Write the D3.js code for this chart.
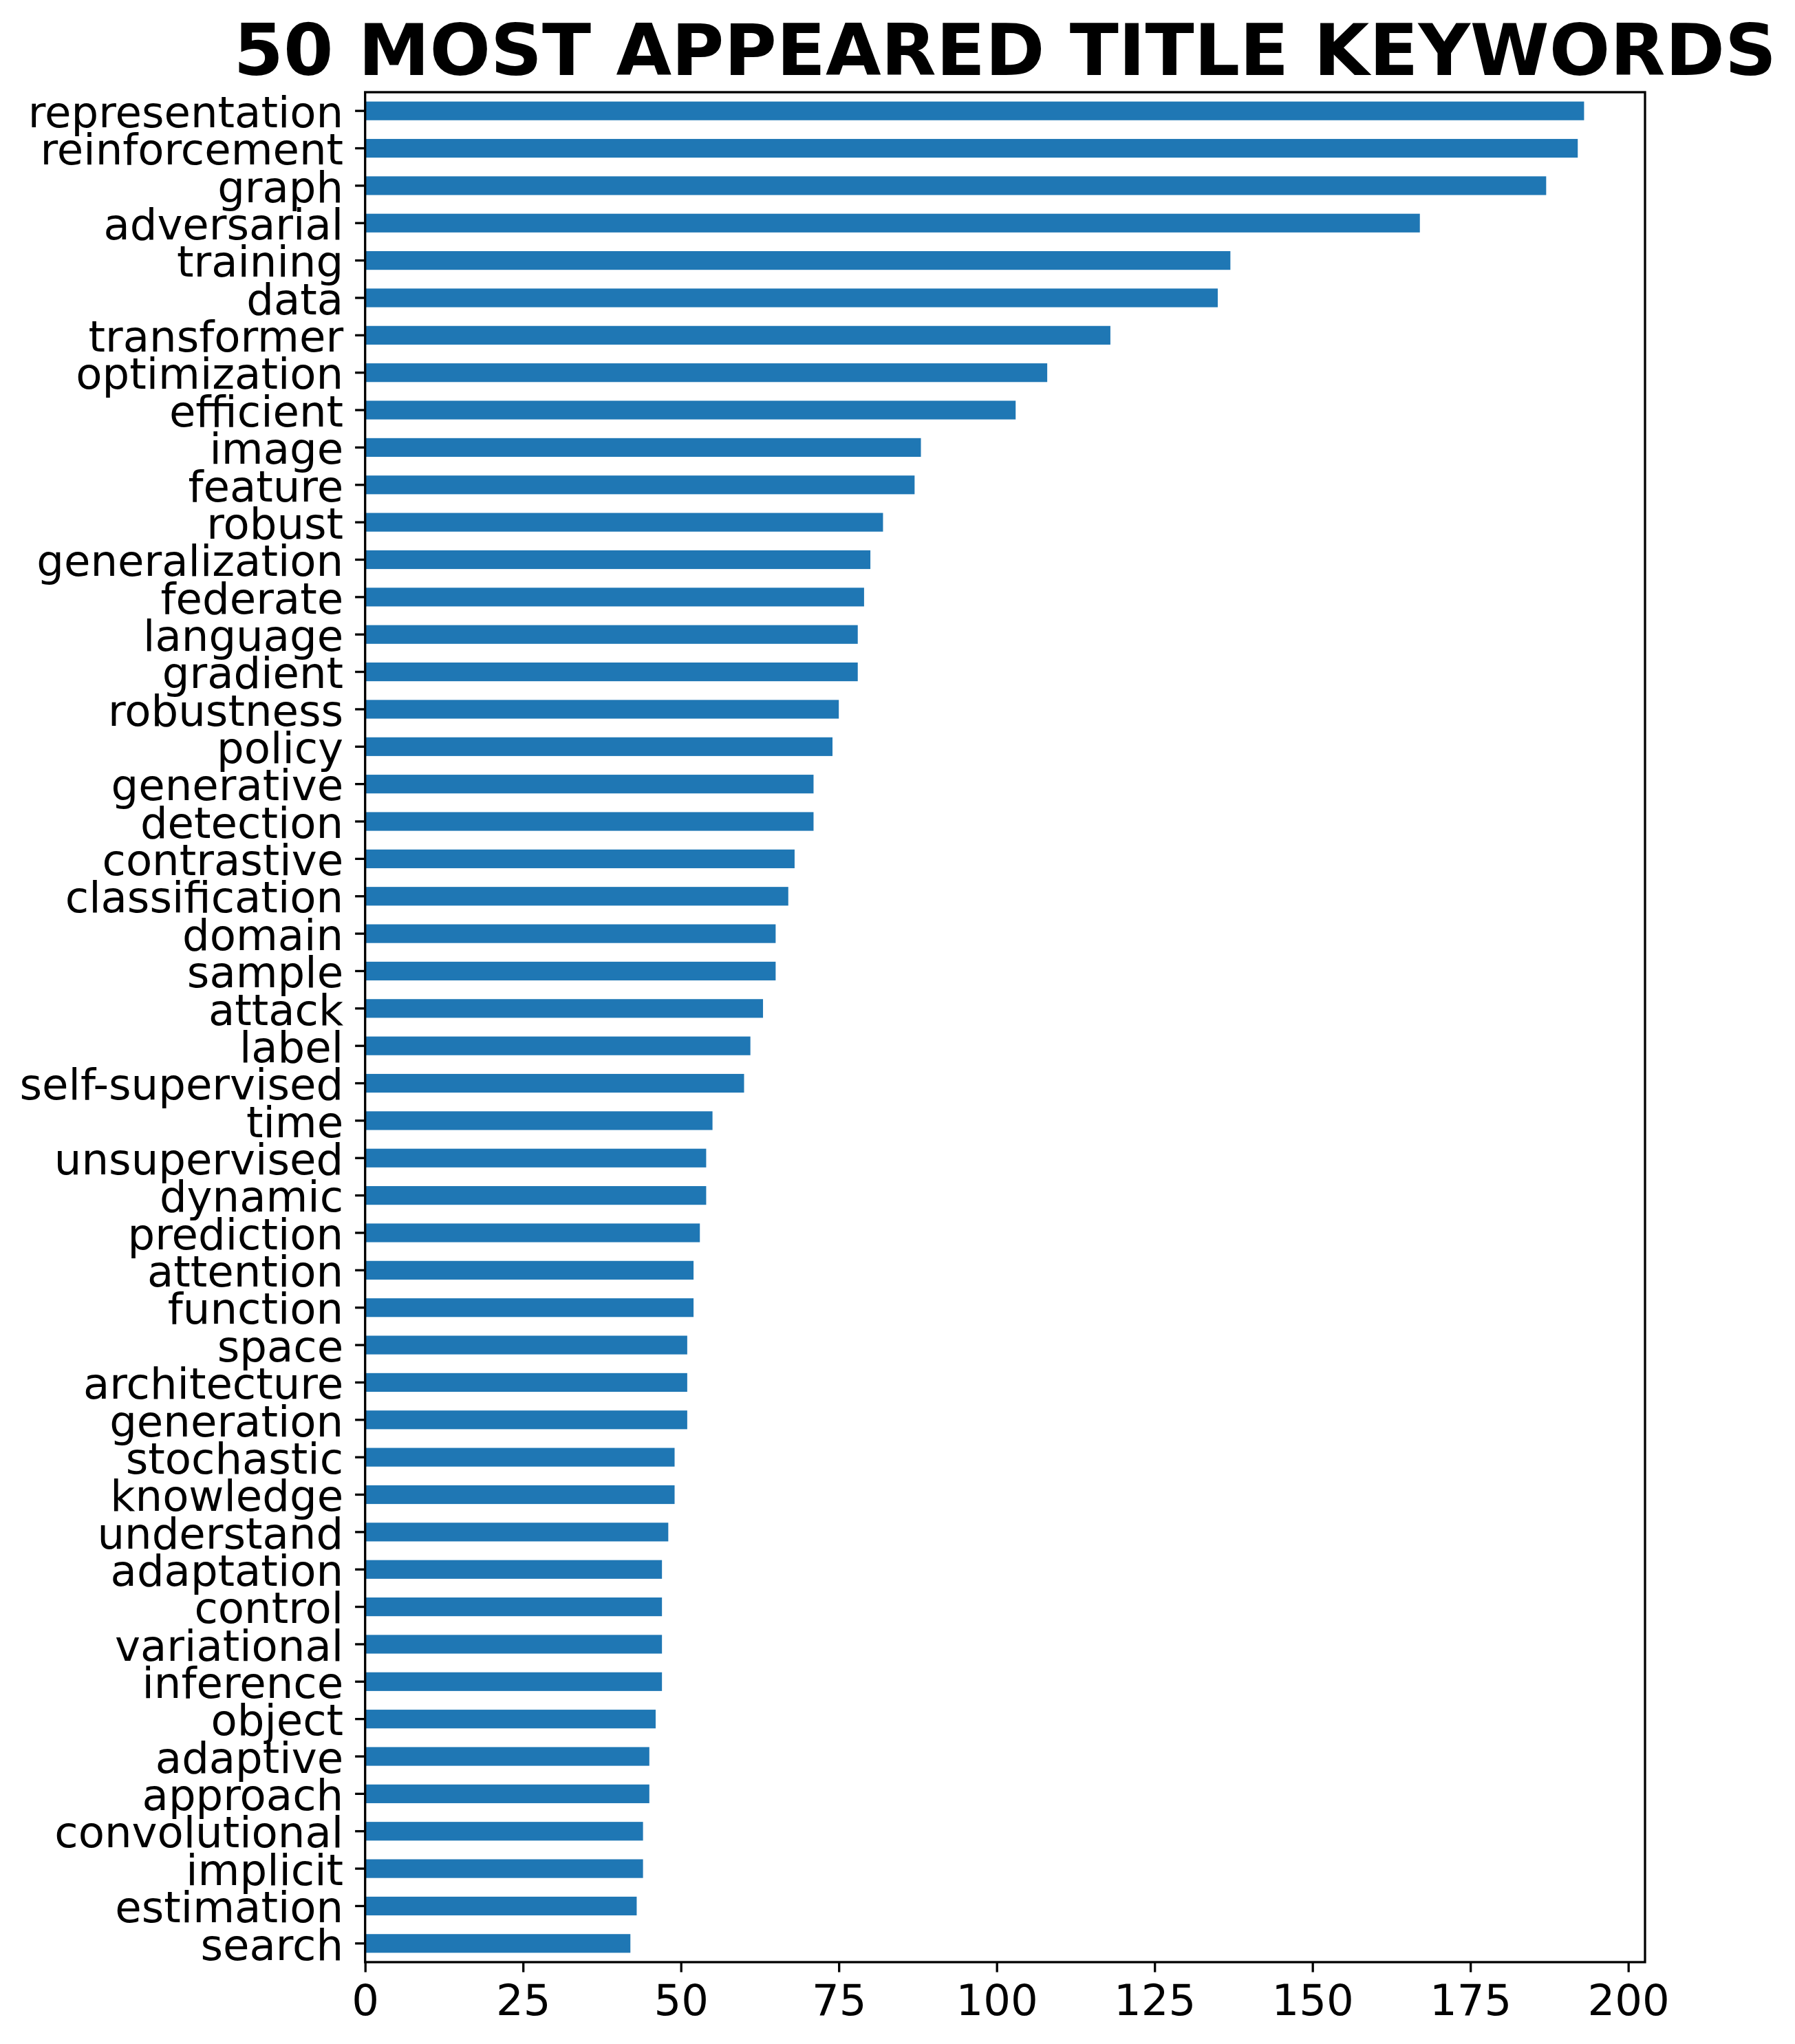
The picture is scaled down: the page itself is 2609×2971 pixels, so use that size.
<!DOCTYPE html>
<html>
<head>
<meta charset="utf-8">
<script src="https://cdn.jsdelivr.net/npm/d3@7"></script>
<style>
  body { margin: 0; background: #fff; }
  text { font-family: "DejaVu Sans", sans-serif; }
</style>
</head>
<body>
<div id="chart"></div>
<script>
// keywords, top to bottom
var keywords = ["representation", "reinforcement", "graph", "adversarial", "training", "data",
    "transformer", "optimization", "efficient", "image", "feature", "robust", "generalization",
    "federate", "language", "gradient", "robustness", "policy", "generative", "detection",
    "contrastive", "classification", "domain", "sample", "attack", "label", "self-supervised",
    "time", "unsupervised", "dynamic", "prediction", "attention", "function", "space",
    "architecture", "generation", "stochastic", "knowledge", "understand", "adaptation",
    "control", "variational", "inference", "object", "adaptive", "approach", "convolutional",
    "implicit", "estimation", "search"];

// counts, same order
var counts = [193, 192, 187, 167, 137, 135, 118, 108, 103, 88, 87, 82, 80, 79, 78, 78, 75, 74,
    71, 71, 68, 67, 65, 65, 63, 61, 60, 55, 54, 54, 53, 52, 52, 51, 51, 51, 49, 49, 48, 47,
    47, 47, 47, 46, 45, 45, 44, 44, 43, 42];

var xTicks = [0, 25, 50, 75, 100, 125, 150, 175, 200];
var chartTitle = "50 MOST APPEARED TITLE KEYWORDS";

var svgWidth = 2609;
var svgHeight = 2971;

var plot = { left: 530.7, right: 2391, top: 134, bottom: 2852 }; // axes box in px

var svg = d3.select("#chart")
    .append("svg")
    .attr("width", svgWidth)
    .attr("height", svgHeight);

var data = keywords.map((k, i) => ({ key: k, value: counts[i] }));

// matplotlib adds 5% margin past the longest bar
var xScale = d3.scaleLinear()
    .domain([0, d3.max(counts) * 1.05])
    .range([plot.left, plot.right]);

var yScale = d3.scaleBand()
    .domain(keywords)
    .range([plot.top, plot.bottom])
    .paddingInner(0.5)
    .paddingOuter(0.25);

svg.append("g")
    .selectAll("rect")
    .data(data)
    .enter()
    .append("rect")
    .attr("x", xScale(0))
    .attr("y", d => yScale(d.key))
    .attr("width", d => xScale(d.value) - xScale(0))
    .attr("height", yScale.bandwidth())
    .attr("fill", "#1f77b4");

// x axis
var xAxis = svg.append("g")
    .attr("transform", `translate(0, ${plot.bottom})`)
    .call(d3.axisBottom(xScale).tickValues(xTicks).tickFormat(d3.format("d"))
        .tickSize(14.6).tickPadding(17.6));

// y axis
var yAxis = svg.append("g")
    .attr("transform", `translate(${plot.left}, 0)`)
    .call(d3.axisLeft(yScale).tickSize(14.6).tickPadding(17));

[xAxis, yAxis].forEach(function(ax) {
    ax.select(".domain").remove();
    ax.selectAll(".tick line").attr("stroke", "#000").attr("stroke-width", 3.3);
    ax.selectAll(".tick text")
        .attr("fill", "#000")
        .style("font-family", "'DejaVu Sans', sans-serif")
        .style("font-size", "62.5px");
});
yAxis.selectAll(".tick text").attr("dy", "0.38em");

// frame
svg.append("rect")
    .attr("x", plot.left)
    .attr("y", plot.top)
    .attr("width", plot.right - plot.left)
    .attr("height", plot.bottom - plot.top)
    .attr("fill", "none")
    .attr("stroke", "#000")
    .attr("stroke-width", 3.3);

svg.append("text")
    .attr("x", (plot.left + plot.right) / 2)
    .attr("y", 109)
    .attr("text-anchor", "middle")
    .style("font-size", "104.2px")
    .style("font-weight", "bold")
    .text(chartTitle);
</script>
</body>
</html>
